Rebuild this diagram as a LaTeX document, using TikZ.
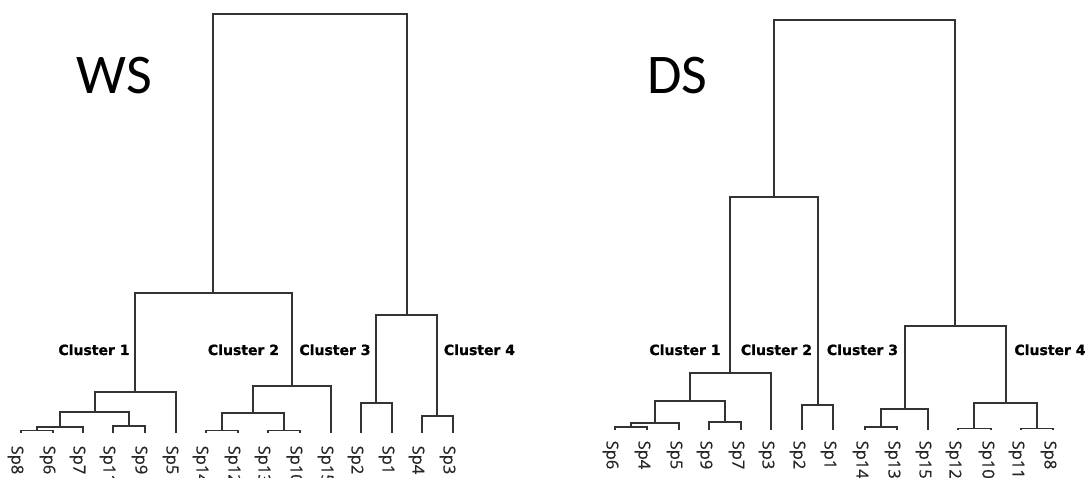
\documentclass[tikz,border=0pt]{standalone}
\usepackage{fontspec}
\setmainfont{Open Sans}
\newfontfamily\leaffont[FakeBold=0.6]{Open Sans}
\newfontfamily\clfont[BoldFeatures={FakeBold=1.2}]{DejaVu Sans}
\newfontfamily\ttlfont{Carlito}
\begin{document}
\begin{tikzpicture}[x=1pt,y=-1pt,
  link/.style={draw=black!80,line width=1.9pt,line cap=rect},
  leaflab/.style={rotate=-90,anchor=west,inner sep=0pt,text=black!85,font=\leaffont\fontsize{16.5}{16.5}\selectfont},
  clab/.style={anchor=base,inner sep=0pt,font=\clfont\bfseries\fontsize{14}{14}\selectfont},
  ttl/.style={anchor=base,inner sep=0pt,font=\ttlfont\fontsize{56}{56}\selectfont}]
\useasboundingbox (0,0) rectangle (1087,478);
% ---------------- WS ----------------
\foreach \n/\x/\t in {w1/21/Sp8,w2/53/Sp6,w3/83/Sp7,w4/113/Sp11,w5/145/Sp9,w6/176/Sp5,w7/206/Sp14,w8/238/Sp12,w9/268/Sp13,w10/300/Sp10,w11/331/Sp15,w12/361/Sp2,w13/392/Sp1,w14/422/Sp4,w15/453/Sp3}{
  \coordinate (\n) at (\x,432.5);
  \node[leaflab] (\n lab) at (\x-5.5,445.5) {\t};
}
\coordinate (wa) at (37,430.5);
\coordinate (wb) at (60,427.3);
\coordinate (wc) at (129,426);
\coordinate (wd) at (95,412);
\coordinate (we) at (135,392);
\coordinate (wf) at (222,430.5);
\coordinate (wg) at (284,430.5);
\coordinate (wh) at (253,413);
\coordinate (wi) at (292,386);
\coordinate (wj) at (213,293);
\coordinate (wk) at (376,403);
\coordinate (wl) at (437,416);
\coordinate (wm) at (407,315);
\coordinate (wr) at (310,14);
\foreach \c/\p/\d in {w1/wa/w2,wa/wb/w3,w4/wc/w5,wb/wd/wc,wd/we/w6,w7/wf/w8,w9/wg/w10,wf/wh/wg,wh/wi/w11,we/wj/wi,w12/wk/w13,w14/wl/w15,wk/wm/wl,wj/wr/wm}{
  \draw[link] (\c) |- (\p) -| (\d);
}
\node[clab] (wc1) at (94,355) {Cluster 1};
\node[clab] (wc2) at (243.5,355) {Cluster 2};
\node[clab] (wc3) at (335,355) {Cluster 3};
\node[clab] (wc4) at (479.5,355) {Cluster 4};
\node[ttl] (wst) at (114.5,94) {WS};
% ---------------- DS ----------------
\foreach \n/\x/\t in {d1/615/Sp6,d2/647/Sp4,d3/679/Sp5,d4/709/Sp9,d5/741/Sp7,d6/771/Sp3,d7/802/Sp2,d8/833/Sp1,d9/865/Sp14,d10/897/Sp13,d11/928/Sp15,d12/958/Sp12,d13/991/Sp10,d14/1021/Sp11,d15/1053/Sp8}{
  \coordinate (\n) at (\x,429.5);
  \node[leaflab] (\n lab) at (\x-4.5,440.5) {\t};
}
\coordinate (da) at (631,427.3);
\coordinate (db) at (655,423.3);
\coordinate (dc) at (725,421.7);
\coordinate (dd) at (690,401);
\coordinate (de) at (730,373);
\coordinate (df) at (818,405);
\coordinate (dg) at (774,197);
\coordinate (dh) at (881,427.3);
\coordinate (di) at (905,409);
\coordinate (dj) at (974,428.5);
\coordinate (dk) at (1037,428.5);
\coordinate (dl) at (1006,403);
\coordinate (dm) at (955,326);
\coordinate (dr) at (865,20);
\foreach \c/\p/\d in {d1/da/d2,da/db/d3,d4/dc/d5,db/dd/dc,dd/de/d6,d7/df/d8,de/dg/df,d9/dh/d10,dh/di/d11,d12/dj/d13,d14/dk/d15,dj/dl/dk,di/dm/dl,dg/dr/dm}{
  \draw[link] (\c) |- (\p) -| (\d);
}
\node[clab] (dc1) at (685,355) {Cluster 1};
\node[clab] (dc2) at (776.5,355) {Cluster 2};
\node[clab] (dc3) at (862.5,355) {Cluster 3};
\node[clab] (dc4) at (1050,355) {Cluster 4};
\node[ttl] (dst) at (677.5,94) {DS};
\end{tikzpicture}
\end{document}
